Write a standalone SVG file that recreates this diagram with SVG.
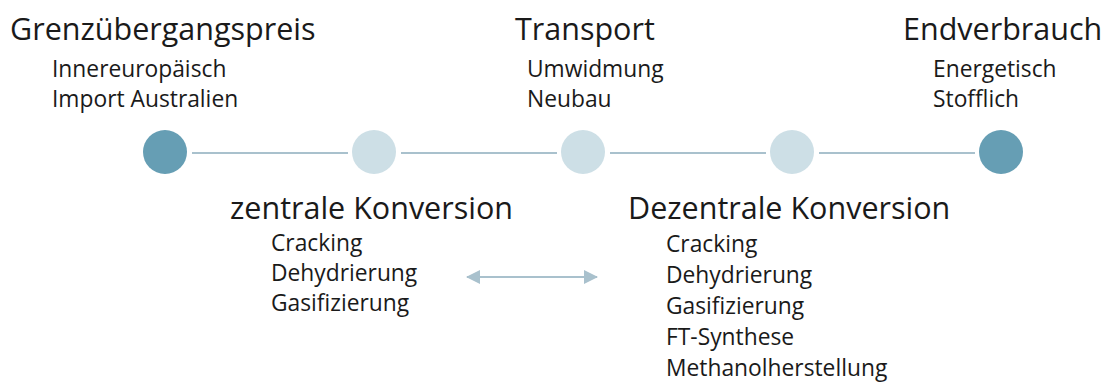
<svg xmlns="http://www.w3.org/2000/svg" width="1113" height="387" viewBox="0 0 1113 387">
<defs>
<style>
.t{font-family:"Open Sans","Noto Sans",sans-serif;fill:#1a1a1a;}
.h{font-size:30.5px;}
.s{font-size:22.8px;}
.dk{fill:#669eb4;}
.lt{fill:#cddfe6;}
.ln{stroke:#a9c1cd;stroke-width:2;fill:none;}
</style>
<marker id="ah" viewBox="0 0 14 14" refX="13" refY="7" markerWidth="14" markerHeight="14" markerUnits="userSpaceOnUse" orient="auto-start-reverse">
<path d="M0,0 L14,7 L0,14 Z" fill="#a9c1cd"/>
</marker>
</defs>
<g id="connectors">
<line class="ln" x1="192" y1="153" x2="348" y2="153"/>
<line class="ln" x1="401" y1="153" x2="557" y2="153"/>
<line class="ln" x1="610" y1="153" x2="766" y2="153"/>
<line class="ln" x1="819" y1="153" x2="975" y2="153"/>
<line class="ln" x1="467" y1="277" x2="597" y2="277" marker-start="url(#ah)" marker-end="url(#ah)"/>
</g>
<g id="n1"><circle class="dk" cx="165" cy="152" r="22"/>
<text class="t h" x="10" y="40">Grenzübergangspreis</text>
<text class="t s" x="52" y="77">Innereuropäisch</text>
<text class="t s" x="52" y="107">Import Australien</text></g>
<g id="n2"><circle class="lt" cx="374" cy="152" r="22"/>
<text class="t h" x="230" y="219">zentrale Konversion</text>
<text class="t s" x="271" y="251">Cracking</text>
<text class="t s" x="271" y="281">Dehydrierung</text>
<text class="t s" x="271" y="311">Gasifizierung</text></g>
<g id="n3"><circle class="lt" cx="583" cy="152" r="22"/>
<text class="t h" x="515" y="40">Transport</text>
<text class="t s" x="527" y="77">Umwidmung</text>
<text class="t s" x="527" y="107">Neubau</text></g>
<g id="n4"><circle class="lt" cx="792" cy="152" r="22"/>
<text class="t h" x="628" y="219">Dezentrale Konversion</text>
<text class="t s" x="666" y="252">Cracking</text>
<text class="t s" x="666" y="283">Dehydrierung</text>
<text class="t s" x="666" y="314">Gasifizierung</text>
<text class="t s" x="666" y="345">FT-Synthese</text>
<text class="t s" x="666" y="376">Methanolherstellung</text></g>
<g id="n5"><circle class="dk" cx="1001" cy="152" r="22"/>
<text class="t h" x="903" y="40">Endverbrauch</text>
<text class="t s" x="933" y="77">Energetisch</text>
<text class="t s" x="933" y="107">Stofflich</text></g>
</svg>
